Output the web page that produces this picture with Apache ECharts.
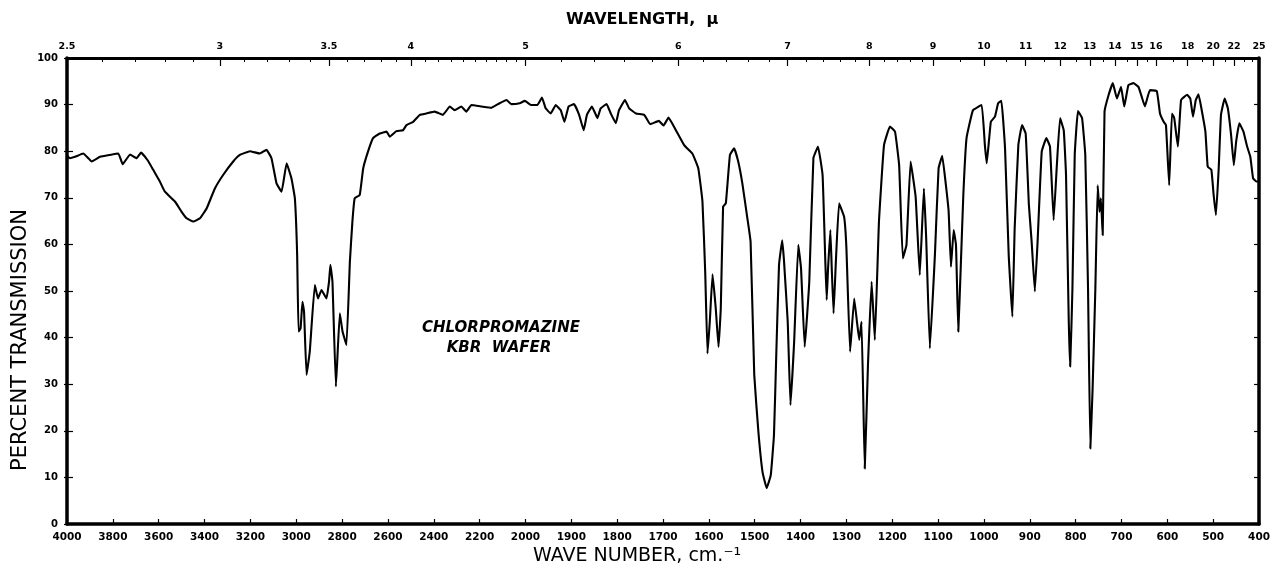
<!DOCTYPE html>
<html>
<head>
<meta charset="utf-8">
<script src="https://cdn.jsdelivr.net/npm/echarts@6/dist/echarts.min.js"></script>
<style>
  html, body { margin: 0; padding: 0; background: #ffffff; }
  #chart { width: 1273px; height: 575px; }
</style>
</head>
<body>
<div id="chart"></div>
<script>
// Infrared spectrum of chlorpromazine (KBr wafer): wave number (cm-1) vs percent transmission
const waveNumbers = [
  4000, 3987, 3965, 3929, 3892, 3856, 3813, 3776, 3757, 3725, 3696, 3677, 3646, 3624, 3595, 3573,
  3529, 3500, 3478, 3449, 3420, 3391, 3355, 3319, 3275, 3246, 3202, 3159, 3130, 3108, 3086, 3064,
  3042, 3021, 3006, 2996, 2990, 2981, 2973, 2966, 2955, 2941, 2919, 2905, 2890, 2868, 2857, 2851,
  2842, 2827, 2810, 2798, 2781, 2766, 2755, 2745, 2723, 2708, 2687, 2665, 2636, 2606, 2592, 2563,
  2534, 2519, 2490, 2461, 2432, 2396, 2360, 2330, 2309, 2280, 2258, 2236, 2192, 2149, 2120, 2083,
  2062, 2025, 2003, 1988, 1974, 1964, 1956, 1945, 1934, 1923, 1915, 1906, 1894, 1883, 1873, 1866,
  1855, 1843, 1836, 1823, 1814, 1803, 1796, 1783, 1774, 1759, 1741, 1728, 1709, 1699, 1688, 1672,
  1654, 1636, 1623, 1614, 1608, 1603, 1598, 1592, 1585, 1579, 1574, 1569, 1563, 1554, 1545, 1536,
  1527, 1516, 1509, 1501, 1492, 1483, 1474, 1465, 1458, 1453, 1447, 1440, 1436, 1428, 1422, 1414,
  1405, 1399, 1391, 1381, 1372, 1362, 1352, 1346, 1343, 1340, 1335, 1332, 1328, 1323, 1316, 1305,
  1300, 1292, 1283, 1277, 1272, 1267, 1260, 1253, 1245, 1238, 1229, 1218, 1205, 1194, 1185, 1177,
  1169, 1160, 1149, 1140, 1131, 1126, 1118, 1107, 1099, 1091, 1083, 1077, 1072, 1066, 1061, 1056,
  1051, 1045, 1038, 1024, 1005, 998, 994, 985, 976, 969, 962, 954, 946, 938, 933, 925,
  917, 909, 902, 896, 889, 883, 874, 864, 856, 848, 841, 834, 826, 821, 815, 812,
  807, 802, 795, 786, 779, 773, 768, 763, 757, 752, 748, 745, 741, 737, 728, 719,
  710, 701, 694, 685, 674, 663, 656, 649, 638, 623, 616, 608, 603, 596, 590, 585,
  577, 570, 557, 550, 544, 538, 532, 525, 517, 512, 504, 499, 494, 488, 483, 475,
  468, 461, 455, 450, 443, 434, 426, 419, 413, 406, 400
];

const transmission = [
  79.0, 78.5, 78.8, 79.5, 77.8, 78.8, 79.2, 79.5, 77.2, 79.3, 78.5, 79.7, 77.9, 76.0, 73.5, 71.3,
  69.2, 67.0, 65.6, 64.9, 65.6, 67.7, 72.0, 74.9, 77.8, 79.2, 80.0, 79.5, 80.3, 78.5, 73.1, 71.3,
  77.4, 74.2, 69.9, 57.7, 41.3, 42.0, 47.7, 45.6, 32.0, 37.0, 51.3, 48.4, 50.2, 48.4, 52.0, 55.6,
  52.0, 29.5, 45.2, 41.3, 38.4, 56.3, 64.9, 69.9, 70.6, 76.3, 79.9, 82.8, 83.8, 84.2, 83.1, 84.3,
  84.5, 85.6, 86.3, 87.8, 88.1, 88.5, 87.8, 89.6, 88.8, 89.6, 88.5, 89.9, 89.6, 89.3, 90.1, 91.0,
  90.1, 90.3, 90.8, 89.9, 89.9, 91.5, 89.2, 88.1, 89.9, 88.8, 86.3, 89.6, 90.1, 87.8, 84.5, 87.8,
  89.6, 87.1, 89.2, 90.1, 88.1, 86.0, 88.8, 91.0, 89.2, 88.1, 87.8, 85.8, 86.5, 85.5, 87.2, 84.5,
  81.3, 79.5, 76.3, 69.2, 54.1, 36.6, 43.4, 53.6, 46.3, 38.0, 46.3, 68.1, 68.8, 79.2, 80.6, 77.8,
  73.1, 65.6, 60.6, 32.0, 19.8, 11.2, 7.7, 10.5, 19.1, 36.3, 55.6, 60.9, 56.3, 43.4, 25.5, 39.1,
  59.9, 54.9, 38.0, 52.0, 78.5, 81.0, 74.9, 56.3, 48.1, 54.9, 63.1, 54.9, 45.2, 56.3, 68.8, 65.9,
  59.2, 37.0, 48.4, 43.4, 39.5, 43.4, 11.9, 34.1, 52.0, 39.5, 64.9, 81.3, 85.3, 84.2, 77.0, 57.0,
  59.9, 77.8, 70.2, 53.4, 72.0, 61.3, 37.7, 57.7, 76.3, 79.0, 72.7, 67.0, 55.2, 63.1, 59.9, 41.3,
  54.1, 70.6, 82.8, 88.8, 89.9, 81.3, 77.4, 86.3, 87.4, 90.3, 90.8, 80.6, 57.7, 44.5, 63.4, 81.3,
  85.6, 83.8, 68.5, 60.6, 49.9, 60.6, 79.9, 82.8, 81.0, 65.2, 77.0, 87.1, 84.5, 74.9, 43.4, 33.8,
  50.6, 79.2, 88.6, 87.1, 79.2, 50.6, 16.2, 29.1, 50.6, 72.7, 67.0, 69.9, 62.0, 88.5, 92.1, 94.6,
  91.3, 93.8, 89.6, 94.2, 94.6, 93.8, 91.7, 89.6, 93.1, 92.9, 88.1, 86.3, 85.6, 72.7, 88.1, 87.1,
  81.0, 91.0, 92.1, 91.3, 87.4, 91.0, 92.2, 88.8, 84.2, 76.7, 76.0, 70.6, 66.3, 76.3, 87.8, 91.3,
  89.2, 83.5, 77.0, 82.0, 86.0, 84.2, 81.0, 78.8, 74.2, 73.5, 73.5
];

// Wavelength scale (microns) printed along the top edge
const wavelengthMajor = [2.5, 3, 3.5, 4, 5, 6, 7, 8, 9, 10, 11, 12, 13, 14, 15, 16, 18, 20, 22, 25];
const wavelengthMinor = [
  2.6, 2.7, 2.8, 2.9, 3.1, 3.2, 3.3, 3.4, 3.6, 3.7, 3.8, 3.9,
  4.1, 4.2, 4.3, 4.4, 4.5, 4.6, 4.7, 4.8, 4.9,
  5.2, 5.4, 5.6, 5.8, 6.2, 6.4, 6.6, 6.8, 7.2, 7.4, 7.6, 7.8, 8.2, 8.4, 8.6, 8.8,
  9.5, 10.5, 11.5, 12.5, 13.5, 14.5, 15.5, 17, 19, 21, 23, 24
];

// Wave-number range and percent scale
const waveNumberRange = [4000, 400];
const percentRange = [0, 100];

// The chart paper changes scale at 2000 cm-1: 200 cm-1 per division above, 100 cm-1 below.
// Map wave number onto a linear "division" coordinate (100 units per division).
function toU(wn) { return wn >= 2000 ? (4000 - wn) / 2 : 1000 + (2000 - wn); }
function fromU(u) { return u <= 1000 ? 4000 - 2 * u : 2000 - (u - 1000); }

const uMin = toU(waveNumberRange[0]);
const uMax = toU(waveNumberRange[1]);
const spectrum = waveNumbers.map((wn, i) => [toU(wn), transmission[i]]);
const majorU = wavelengthMajor.map(l => toU(10000 / l));
const minorU = wavelengthMinor.map(l => toU(10000 / l));

const ink = '#000000';
const tickFont = { fontFamily: 'DejaVu Sans', fontWeight: 'bold', color: ink };
const plotBox = { left: 67, right: 13, top: 58, bottom: 51 };

const chart = echarts.init(document.getElementById('chart'), null, { renderer: 'canvas' });
chart.setOption({
  animation: false,
  backgroundColor: '#ffffff',
  // grid 0 carries the data and main frame; grid 1 overlays it for the extra tick rows
  grid: [
    Object.assign({ show: false }, plotBox),
    Object.assign({ show: false }, plotBox)
  ],
  xAxis: [
    {
      gridIndex: 0, type: 'value', position: 'bottom', min: uMin, max: uMax, interval: 100,
      axisLine: { show: true, onZero: false, lineStyle: { color: ink, width: 3.5 } },
      axisTick: { show: true, inside: true, length: 5, lineStyle: { color: ink, width: 1.2 } },
      axisLabel: Object.assign({ fontSize: 10.5, margin: 8, formatter: v => String(Math.round(fromU(v))) }, tickFont),
      splitLine: { show: false }
    },
    {
      gridIndex: 0, type: 'value', position: 'top', min: uMin, max: uMax,
      axisLine: { show: true, onZero: false, lineStyle: { color: ink, width: 3 } },
      axisTick: { show: true, inside: true, length: 8, customValues: majorU, lineStyle: { color: ink, width: 1.2 } },
      axisLabel: Object.assign({
        fontSize: 9.5, margin: 6, customValues: majorU,
        formatter: v => String(Math.round(100000 / fromU(v)) / 10)
      }, tickFont),
      splitLine: { show: false }
    },
    {
      gridIndex: 1, type: 'value', position: 'top', min: uMin, max: uMax,
      axisLine: { show: false, onZero: false },
      axisTick: { show: true, inside: true, length: 4, customValues: minorU, lineStyle: { color: ink, width: 1 } },
      axisLabel: { show: false },
      splitLine: { show: false }
    }
  ],
  yAxis: [
    {
      gridIndex: 0, type: 'value', position: 'left', min: percentRange[0], max: percentRange[1], interval: 10,
      axisLine: { show: true, onZero: false, lineStyle: { color: ink, width: 3.5 } },
      axisTick: { show: true, inside: true, length: 6, lineStyle: { color: ink, width: 1.2 } },
      axisLabel: Object.assign({ fontSize: 10, margin: 9 }, tickFont),
      splitLine: { show: false }
    },
    {
      gridIndex: 0, type: 'value', position: 'right', min: percentRange[0], max: percentRange[1], interval: 10,
      axisLine: { show: true, onZero: false, lineStyle: { color: ink, width: 3.5 } },
      axisTick: { show: true, inside: true, length: 5, lineStyle: { color: ink, width: 1.2 } },
      axisLabel: { show: false },
      splitLine: { show: false }
    },
    {
      gridIndex: 1, type: 'value', position: 'left', min: percentRange[0], max: percentRange[1], interval: 10,
      axisLine: { show: false, onZero: false },
      axisTick: { show: true, inside: false, length: 3, lineStyle: { color: ink, width: 1.2 } },
      axisLabel: { show: false },
      splitLine: { show: false }
    }
  ],
  series: [{
    type: 'line',
    xAxisIndex: 0,
    yAxisIndex: 0,
    data: spectrum,
    showSymbol: false,
    smooth: 0.1,
    lineStyle: { color: ink, width: 2.1, join: 'round', cap: 'round' },
    silent: true
  }],
  graphic: [
    {
      type: 'text', left: 566, top: 12,
      style: { text: 'WAVELENGTH,  μ', fill: ink, font: 'bold 16px "DejaVu Sans", sans-serif' }
    },
    {
      type: 'text', left: 533, top: 547,
      style: { text: 'WAVE NUMBER, cm.⁻¹', fill: ink, font: '19px "DejaVu Sans", sans-serif' }
    },
    {
      type: 'text', x: 21, y: 340, rotation: Math.PI / 2,
      style: {
        text: 'PERCENT TRANSMISSION', fill: ink, align: 'center', verticalAlign: 'middle',
        font: '21px "DejaVu Sans", sans-serif'
      }
    },
    {
      type: 'text', x: 501, y: 328,
      style: {
        text: 'CHLORPROMAZINE', fill: ink, align: 'center', verticalAlign: 'middle',
        font: 'italic bold 15px "DejaVu Sans", sans-serif'
      }
    },
    {
      type: 'text', x: 499, y: 348,
      style: {
        text: 'KBR  WAFER', fill: ink, align: 'center', verticalAlign: 'middle',
        font: 'italic bold 15px "DejaVu Sans", sans-serif'
      }
    }
  ]
});
</script>
</body>
</html>
